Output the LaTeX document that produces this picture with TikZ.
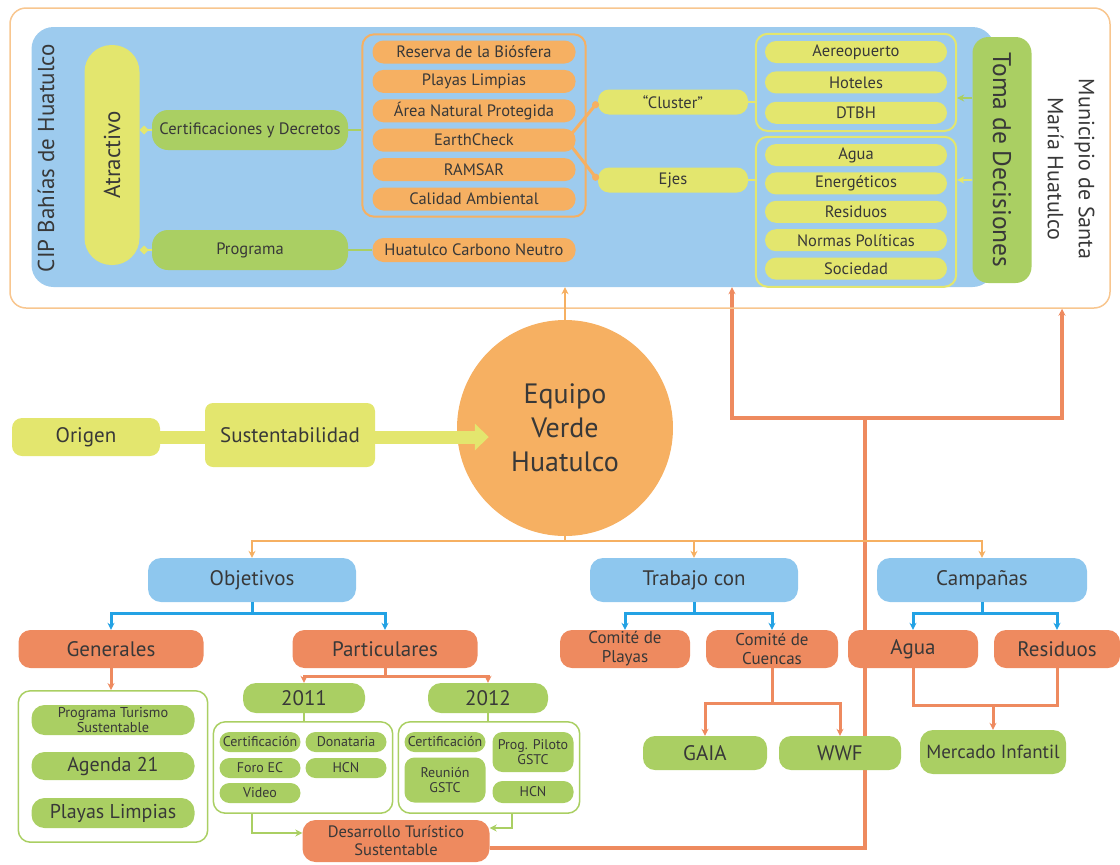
\documentclass[tikz,border=0pt]{standalone}
\usepackage{fontspec}
\setmainfont{PT Sans}
\usepackage{tikz}
\usetikzlibrary{fit}
\usetikzlibrary{positioning}
\usetikzlibrary{arrows.meta}
\usetikzlibrary{backgrounds}

\definecolor{fondo}{HTML}{9DCBEE}
\definecolor{azul}{HTML}{8EC7EE}
\definecolor{azuloscuro}{HTML}{23A2E4}
\definecolor{salmon}{HTML}{EE8A5F}
\definecolor{naranja}{HTML}{F6B062}
\definecolor{marco}{HTML}{F8C68F}
\definecolor{verde}{HTML}{AACF63}
\definecolor{amarillo}{HTML}{E3E66E}
\definecolor{texto}{HTML}{383838}

\begin{document}
\begin{tikzpicture}[
            x = 1pt, y = -1pt, % pixel units
            > = {Stealth[length=7pt, width=7pt]}, % arrow head style
            node distance = 6pt, % distance between list items
            every node/.style = {text = texto, align = center, inner sep = 0pt}
        ]

        \tikzstyle{caja}=[rounded corners = 11pt]
        \tikzstyle{amar}=[caja, fill = amarillo]
        \tikzstyle{verd}=[caja, fill = verde]
        \tikzstyle{nar}=[caja, fill = naranja]
        \tikzstyle{sal}=[caja, fill = salmon]
        \tikzstyle{azu}=[caja, fill = azul]
        \tikzstyle{grande}=[font = \fontsize{21}{24}\selectfont]
        \tikzstyle{media}=[font = \fontsize{16.5}{18}\selectfont]
        \tikzstyle{comite}=[font = \fontsize{17}{19}\selectfont]
        \tikzstyle{chica}=[font = \fontsize{14}{15}\selectfont]
        \tikzstyle{lista}=[nar, minimum width = 203pt, minimum height = 23pt, media]
        \tikzstyle{listb}=[amar, minimum width = 182pt, minimum height = 22pt, media]
        \tikzstyle{listv}=[verd, minimum width = 163pt, rounded corners = 13pt]
        \tikzstyle{mini}=[verd, minimum width = 81pt, minimum height = 20pt, rounded corners = 10pt, chica]
        \tikzstyle{grupo}=[line width = 2pt, rounded corners = 12pt]

        \useasboundingbox (0,0) rectangle (1120,865);

	% municipio and CIP
        \node[draw = marco, line width = 1.5pt, rounded corners = 16pt, minimum width = 1100pt, minimum height = 300pt] (muni) at (560,158) {};
        \node[fill = fondo, rounded corners = 22pt, minimum width = 963pt, minimum height = 260pt] (cip) at (513,157) {};
        \node[rotate = 90, font = \fontsize{23}{27}\selectfont] (cipt) at (46,158) {CIP Bahías de Huatulco};
        \node[rotate = -90, font = \fontsize{22}{31}\selectfont] (munit) at (1071,169) {Municipio de Santa\\María Huatulco};

	% atractivo
        \node[amar, rotate = 90, rounded corners = 27pt, minimum width = 220pt, minimum height = 55pt, font = \fontsize{23}{27}\selectfont] (atr) at (112,155) {Atractivo};
        \node[verd, rounded corners = 16pt, minimum width = 196pt, minimum height = 40pt, font = \fontsize{16.5}{19}\selectfont] (cert) at (250,130) {Certificaciones y Decretos};
        \node[verd, rounded corners = 16pt, minimum width = 196pt, minimum height = 40pt, font = \fontsize{16.5}{19}\selectfont] (prog) at (250,250) {Programa};

        \draw[amarillo, line width = 2pt, -{Diamond[length=9pt, width=9pt]}] (cert.west) -- (cert.west -| atr.south);
        \draw[amarillo, line width = 2pt, -{Diamond[length=9pt, width=9pt]}] (prog.west) -- (prog.west -| atr.south);

	% certificaciones
        \node[lista] (res) at (474,52) {Reserva de la Biósfera};
        \node[lista, below = of res] (pla) {Playas Limpias};
        \node[lista, below = of pla] (anp) {Área Natural Protegida};
        \node[lista, below = of anp] (ear) {EarthCheck};
        \node[lista, below = of ear] (ram) {RAMSAR};
        \node[lista, below = of ram] (cal) {Calidad Ambiental};
        \node[draw = naranja, grupo, inner xsep = 10pt, inner ysep = 6pt, fit = (res) (cal)] (grupoA) {};
        \node[lista, minimum height = 24pt] (hcn) at (474,250) {Huatulco Carbono Neutro};

        \draw[verde, line width = 2pt] (cert.east) -- (cert.east -| grupoA.west);
        \draw[verde, line width = 2pt] (prog.east) -- (hcn.west);

	% cluster and ejes
        \node[amar, minimum width = 150pt, minimum height = 25pt, media] (clu) at (673,102) {“Cluster”};
        \node[amar, minimum width = 150pt, minimum height = 25pt, media] (eje) at (673,180) {Ejes};

        \draw[naranja, line width = 3pt, -{Circle[length=7pt]}] ([xshift = -6pt, yshift = 4pt]ear.east) -- (clu.west);
        \draw[naranja, line width = 3pt, -{Circle[length=7pt]}] ([xshift = -6pt, yshift = -4pt]ear.east) -- (eje.west);

        \node[listb] (aer) at (856,52) {Aereopuerto};
        \node[listb, below = 8pt of aer] (hot) {Hoteles};
        \node[listb, below = 8pt of hot] (dtb) {DTBH};
        \node[draw = amarillo, grupo, inner xsep = 9pt, inner ysep = 7pt, fit = (aer) (dtb)] (grupoB) {};

        \node[listb] (agu) at (856,155) {Agua};
        \node[listb, below = of agu] (ene) {Energéticos};
        \node[listb, below = of ene] (resi) {Residuos};
        \node[listb, below = of resi] (nor) {Normas Políticas};
        \node[listb, below = of nor] (soc) {Sociedad};
        \node[draw = amarillo, grupo, inner xsep = 9pt, inner ysep = 7pt, fit = (agu) (soc)] (grupoC) {};

        \draw[amarillo, line width = 2pt] (clu.east) -- (clu.east -| grupoB.west);
        \draw[amarillo, line width = 2pt] (eje.east) -- (eje.east -| grupoC.west);

	% toma de decisiones
        \node[verd, rotate = -90, rounded corners = 16pt, minimum width = 246pt, minimum height = 59pt, font = \fontsize{25.5}{30}\selectfont] (toma) at (1002,160) {Toma de Decisiones};

        \draw[verde, line width = 2pt, ->] (toma.south |- 0,98) -- (grupoB.east |- 0,98);
        \draw[amarillo, line width = 2pt, ->] (toma.south |- eje) -- (grupoC.east |- eje);

	% equipo verde
        \node[amar, rounded corners = 10pt, minimum width = 148pt, minimum height = 38pt, grande] (ori) at (86,437) {Origen};
        \node[circle, fill = naranja, minimum size = 216pt, font = \fontsize{28}{34}\selectfont] (eq) at (565,428) {Equipo\\Verde\\Huatulco};

        \draw[amarillo, line width = 13pt, -{Triangle[length=14pt, width=26pt]}, shorten >= -32pt] (ori.east) -- (ori.east -| eq.west);
        \node[amar, rounded corners = 8pt, minimum width = 170pt, minimum height = 64pt, grande] (sus) at (290,435) {Sustentabilidad};
        \draw[naranja, line width = 2pt, ->] (eq.north) -- (eq.north |- cip.south);

	% objetivos, trabajo, campanas
        \node[azu, rounded corners = 13pt, minimum width = 208pt, minimum height = 44pt, grande] (obj) at (252,580) {Objetivos};
        \node[azu, rounded corners = 13pt, minimum width = 208pt, minimum height = 44pt, grande] (tra) at (694,580) {Trabajo con};
        \node[azu, rounded corners = 13pt, minimum width = 210pt, minimum height = 44pt, grande] (cam) at (982,580) {Campañas};

        \draw[naranja, line width = 2.5pt, ->] (eq.south) -- ++(0,5) -| (obj.north);
        \draw[naranja, line width = 2.5pt, ->] (eq.south) -- ++(0,5) -| (tra.north);
        \draw[naranja, line width = 2.5pt, ->] (eq.south) -- ++(0,5) -| (cam.north);

        \node[sal, rounded corners = 12pt, minimum width = 185pt, minimum height = 38pt, grande] (gen) at (111,649) {Generales};
        \node[sal, rounded corners = 12pt, minimum width = 185pt, minimum height = 38pt, grande] (par) at (385,649) {Particulares};
        \node[sal, rounded corners = 12pt, minimum width = 130pt, minimum height = 38pt, comite] (cpl) at (625,649) {Comité de\\Playas};
        \node[sal, rounded corners = 12pt, minimum width = 132pt, minimum height = 38pt, comite] (ccu) at (772,649) {Comité de\\Cuencas};
        \node[sal, rounded corners = 12pt, minimum width = 130pt, minimum height = 38pt, grande] (agu2) at (913,649) {Agua};
        \node[sal, rounded corners = 12pt, minimum width = 126pt, minimum height = 38pt, grande] (rsd) at (1057,649) {Residuos};

        \draw[azuloscuro, line width = 3pt, ->] (obj.south) -- ++(0,11) -| (gen.north);
        \draw[azuloscuro, line width = 3pt, ->] (obj.south) -- ++(0,11) -| (par.north);
        \draw[azuloscuro, line width = 3pt, ->] (tra.south) -- ++(0,11) -| (cpl.north);
        \draw[azuloscuro, line width = 3pt, ->] (tra.south) -- ++(0,11) -| (ccu.north);
        \draw[azuloscuro, line width = 3pt, ->] (cam.south) -- ++(0,11) -| (agu2.north);
        \draw[azuloscuro, line width = 3pt, ->] (cam.south) -- ++(0,11) -| (rsd.north);

	% generales
        \node[listv, minimum height = 30pt, font = \fontsize{14.3}{15}\selectfont] (pts) at (113,720) {Programa Turismo\\Sustentable};
        \node[listv, minimum height = 28pt, font = \fontsize{20}{23}\selectfont] (a21) at (113,766) {Agenda 21};
        \node[listv, minimum height = 30pt, font = \fontsize{20}{23}\selectfont] (pli) at (113,813) {Playas Limpias};
        \node[draw = verde, line width = 1.5pt, rounded corners = 12pt, inner xsep = 13pt, inner ysep = 14pt, fit = (pts) (pli)] (grupoG) {};

        \draw[salmon, line width = 3pt, ->] (gen.south) -- (gen.south |- grupoG.north);

	% particulares
        \node[verd, rounded corners = 13pt, minimum width = 122pt, minimum height = 30pt, font = \fontsize{21}{24}\selectfont] (a11) at (304,698) {2011};
        \node[verd, rounded corners = 13pt, minimum width = 120pt, minimum height = 30pt, font = \fontsize{21}{24}\selectfont] (a12) at (488,698) {2012};

        \draw[salmon, line width = 3pt, ->] (par.south) -- ++(0,8) -| (a11.north);
        \draw[salmon, line width = 3pt, ->] (par.south) -- ++(0,8) -| (a12.north);

        \node[mini] (c11) at (260,742) {Certificación};
        \node[mini] (don) at (346,742) {Donataria};
        \node[mini] (for) at (260,768) {Foro EC};
        \node[mini] (h11) at (346,768) {HCN};
        \node[mini] (vid) at (260,793) {Video};
        \node[draw = verde, line width = 1.5pt, rounded corners = 12pt, inner xsep = 6pt, inner ysep = 10pt, fit = (c11) (don) (vid)] (caja11) {};

        \node[mini] (c12) at (445,742) {Certificación};
        \node[mini, minimum height = 40pt] (ppg) at (533,752) {Prog. Piloto\\GSTC};
        \node[mini, minimum height = 45pt] (reu) at (445,780) {Reunión\\GSTC};
        \node[mini, minimum height = 22pt] (h12) at (533,792) {HCN};
        \node[draw = verde, line width = 1.5pt, rounded corners = 12pt, inner xsep = 6pt, inner ysep = 10pt, fit = (c12) (ppg) (reu) (h12)] (caja12) {};

        \draw[verde, line width = 2.5pt] (a11.south) -- (a11.south |- caja11.north);
        \draw[verde, line width = 2.5pt] (a12.south) -- (a12.south |- caja12.north);

        \node[sal, rounded corners = 13pt, minimum width = 187pt, minimum height = 42pt, media] (des) at (396,841) {Desarrollo Turístico\\Sustentable};

        \draw[verde, line width = 2.5pt, ->] (caja11.south -| 252,0) |- ([yshift = 8pt]des.west);
        \draw[verde, line width = 2.5pt, ->] (caja12.south -| 512,0) |- ([yshift = 13pt]des.east);

	% trabajo con
        \node[verd, rounded corners = 12pt, minimum width = 124pt, minimum height = 34pt, font = \fontsize{21}{24}\selectfont] (gai) at (705,753) {GAIA};
        \node[verd, rounded corners = 12pt, minimum width = 122pt, minimum height = 34pt, font = \fontsize{21}{24}\selectfont] (wwf) at (840,753) {WWF};

        \draw[salmon, line width = 3pt, ->] (ccu.south) -- ++(0,35) -| (gai.north);
        \draw[salmon, line width = 3pt, ->] (ccu.south) -- ++(0,35) -| (wwf.north);

	% campanas
        \node[verd, rounded corners = 13pt, minimum width = 146pt, minimum height = 44pt, font = \fontsize{19}{22}\selectfont] (mer) at (993,752) {Mercado Infantil};

        \draw[salmon, line width = 3pt] (agu2.south) -- ++(0,37) -| (rsd.south);
        \draw[salmon, line width = 3pt, ->] (mer.north |- 0,705) -- (mer.north);

	% back to the top
        \begin{pgfonlayer}{background}
        \coordinate (hub) at (865,418);
        \draw[salmon, line width = 3.5pt] ([yshift = -7pt]des.east) -| (hub);
        \draw[salmon, line width = 3.5pt, ->] (hub) -| (732,0 |- cip.south);
        \draw[salmon, line width = 3.5pt, ->] (hub) -| (1062,0 |- muni.south);
        \end{pgfonlayer}

  \end{tikzpicture}
\end{document}
